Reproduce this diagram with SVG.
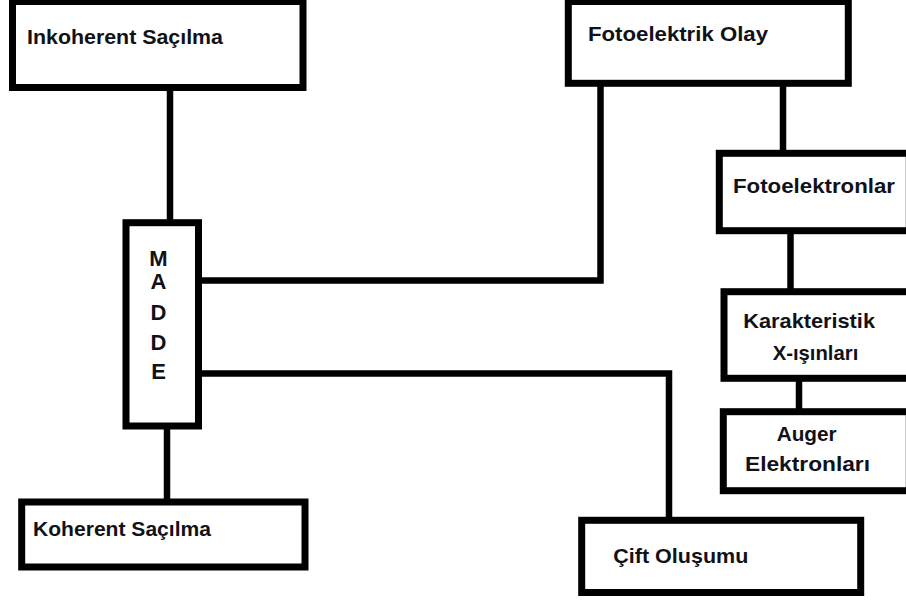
<svg xmlns="http://www.w3.org/2000/svg" width="906" height="601" viewBox="0 0 906 601">
  <style>
    .box { fill: #ffffff; stroke: #000000; stroke-width: 7; }
    .wire { fill: none; stroke: #000000; stroke-width: 6.5; stroke-linejoin: miter; stroke-linecap: butt; }
    .lbl { font-family: "Liberation Sans", Arial, sans-serif; font-weight: bold; font-size: 21px; fill: #111118; }
    .big { font-size: 22px; }
    .mid { text-anchor: middle; }
  </style>
  <rect x="0" y="0" width="906" height="601" fill="#ffffff"/>

  <!-- connectors -->
  <g id="connectors">
    <line class="wire" x1="170" y1="88" x2="170" y2="223"/>
    <line class="wire" x1="167" y1="425" x2="167" y2="503"/>
    <polyline class="wire" points="198,280.5 600.5,280.5 600.5,83"/>
    <polyline class="wire" points="198,373.5 669,373.5 669,521"/>
    <line class="wire" x1="783" y1="82" x2="783" y2="154"/>
    <line class="wire" x1="790.5" y1="230" x2="790.5" y2="305"/>
    <line class="wire" x1="799" y1="378" x2="799" y2="413"/>
  </g>

  <!-- nodes -->
  <g id="inkoherent">
    <rect class="box" x="12.5" y="1.5" width="290.5" height="86"/>
    <text class="lbl" x="27" y="43.5" textLength="196" lengthAdjust="spacingAndGlyphs">Inkoherent Saçılma</text>
  </g>

  <g id="madde">
    <rect class="box" x="126" y="222.7" width="72.5" height="203.3"/>
    <text class="lbl big mid" x="158.5" y="266">M</text>
    <text class="lbl big mid" x="158.5" y="289">A</text>
    <text class="lbl big mid" x="158.5" y="320">D</text>
    <text class="lbl big mid" x="158.5" y="350">D</text>
    <text class="lbl big mid" x="158.5" y="378.5">E</text>
  </g>

  <g id="koherent">
    <rect class="box" x="21.7" y="502" width="283.3" height="65"/>
    <text class="lbl" x="33" y="535.5" textLength="178" lengthAdjust="spacingAndGlyphs">Koherent Saçılma</text>
  </g>

  <g id="fotoelektrik">
    <rect class="box" x="568.3" y="1.5" width="280" height="81.8"/>
    <text class="lbl" x="588" y="41" textLength="180" lengthAdjust="spacingAndGlyphs">Fotoelektrik Olay</text>
  </g>

  <g id="fotoelektronlar">
    <rect class="box" x="719.3" y="153.3" width="190" height="77.4"/>
    <text class="lbl" x="733" y="193" textLength="162" lengthAdjust="spacingAndGlyphs">Fotoelektronlar</text>
  </g>

  <g id="karakteristik">
    <rect class="box" x="724" y="291.7" width="186" height="86.6"/>
    <text class="lbl" x="743.3" y="328" textLength="131.7" lengthAdjust="spacingAndGlyphs">Karakteristik</text>
    <text class="lbl" x="772.7" y="359.5" textLength="85.6" lengthAdjust="spacingAndGlyphs">X-ışınları</text>
  </g>

  <g id="auger">
    <rect class="box" x="723.3" y="411.7" width="186" height="79"/>
    <text class="lbl" x="776.7" y="441" textLength="60" lengthAdjust="spacingAndGlyphs">Auger</text>
    <text class="lbl" x="745" y="471" textLength="125" lengthAdjust="spacingAndGlyphs">Elektronları</text>
  </g>

  <g id="cift">
    <rect class="box" x="581.7" y="520.3" width="279" height="72.2"/>
    <text class="lbl" x="613.3" y="562.5" textLength="135" lengthAdjust="spacingAndGlyphs">Çift Oluşumu</text>
  </g>
</svg>
